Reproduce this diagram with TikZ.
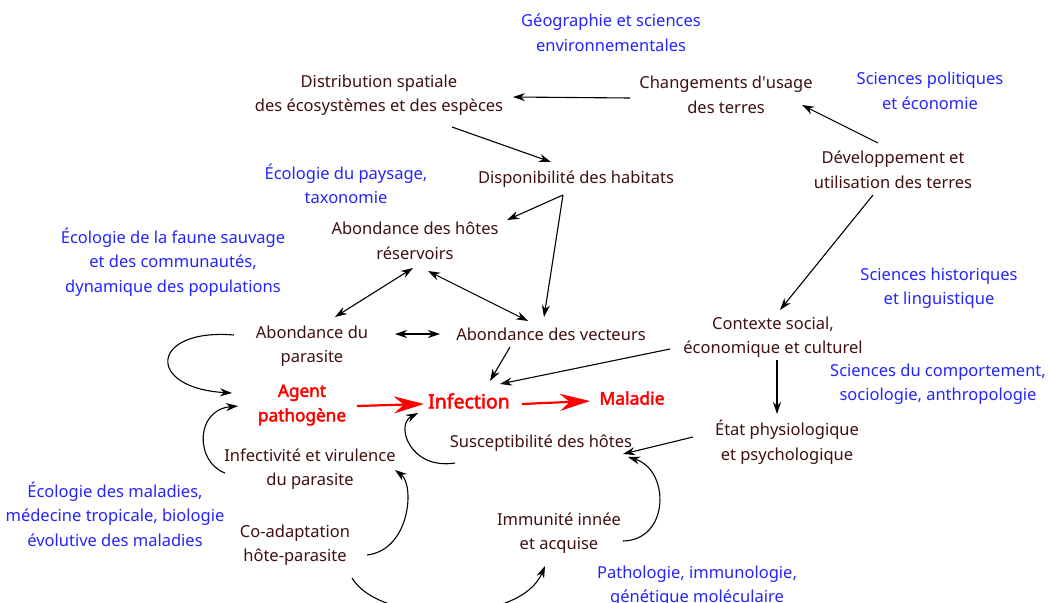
\documentclass[tikz,border=0pt]{standalone}
\usepackage{fontspec}
\setmainfont{Noto Sans}[AutoFakeBold=2.5]
\usetikzlibrary{arrows.meta}
\definecolor{brun}{RGB}{64,16,16}
\definecolor{bleu}{RGB}{36,36,255}
\definecolor{rouge}{RGB}{255,0,0}

\begin{document}
\begin{tikzpicture}[x=1pt, y=-1pt,
    txt/.style = {text=brun, align=center, inner sep=0pt, font=\fontsize{16.5}{24.5}\selectfont},
    field/.style = {txt, text=bleu},
    key/.style = {txt, text=rouge, font=\fontsize{17.2}{24.5}\selectfont\bfseries},
    link/.style = {-{Stealth[length=12pt, width=8pt]}, line width=1.1pt},
    twoway/.style = {{Stealth[length=12pt, width=8pt]}-{Stealth[length=12pt, width=8pt]}, line width=1.1pt},
    cause/.style = {-{Stealth[length=30pt, width=17pt]}, rouge, line width=2.2pt}]
    \useasboundingbox (0,0) rectangle (1048,602);
    \clip (0,0) rectangle (1048,602);
    % disciplines (blue)
    \node[field] (geo) at (611,33) {Géographie et sciences\\environnementales};
    \node[field] (pol) at (930,91) {Sciences politiques\\et économie};
    \node[field] (pay) at (346,184) {Écologie du paysage,\\taxonomie};
    \node[field] (faune) at (173,262) {Écologie de la faune sauvage\\et des communautés,\\dynamique des populations};
    \node[field] (hist) at (939,288) {Sciences historiques\\et linguistique};
    \node[field] (comp) at (938,384) {Sciences du comportement,\\sociologie, anthropologie};
    \node[field] (malad) at (115,514) {Écologie des maladies,\\médecine tropicale, biologie\\évolutive des maladies};
    \node[field] (patho) at (697,586) {Pathologie, immunologie,\\génétique moléculaire};
    % factors
    \node[txt] (dist) at (379,95) {Distribution spatiale\\des écosystèmes et des espèces};
    \node[txt] (chg) at (726,95) {Changements d\textquotesingle usage\\des terres};
    \node[txt] (dispo) at (576,179) {Disponibilité des habitats};
    \node[txt] (dev) at (893,170) {Développement et\\utilisation des terres};
    \node[txt] (hotes) at (415,241) {Abondance des hôtes\\réservoirs};
    \node[txt] (para) at (312,346) {Abondance du\\parasite};
    \node[txt] (vect) at (551,334) {Abondance des vecteurs};
    \node[txt] (ctx) at (773,337) {Contexte social,\\économique et culturel};
    \node[txt] (sus) at (541,443) {Susceptibilité des hôtes};
    \node[txt] (etat) at (787,442) {État physiologique\\et psychologique};
    \node[txt] (virul) at (310,469) {Infectivité et virulence\\du parasite};
    \node[txt] (coad) at (295,545) {Co-adaptation\\hôte-parasite};
    \node[txt] (immu) at (559,533) {Immunité innée\\et acquise};
    % the chain
    \node[key] (agent) at (302,405) {Agent\\pathogène};
    \node[key, font=\fontsize{19.5}{24}\selectfont\bfseries] (inf) at (469,401) {Infection};
    \node[key, font=\fontsize{17.5}{24}\selectfont\bfseries] (maladie) at (632,398) {Maladie};
    % straight links (offsets in px from the node centres)
    \draw[link] ([shift={(-96,3)}]chg.center) -- ([shift={(134,2)}]dist.center);
    \draw[link] ([shift={(73,32)}]dist.center) -- ([shift={(-25,-17)}]dispo.center);
    \draw[link] ([shift={(-15,-27)}]dev.center) -- ([shift={(76,10)}]chg.center);
    \draw[link] ([shift={(-13,16)}]dispo.center) -- ([shift={(92,-21)}]hotes.center);
    \draw[link] ([shift={(-13,16)}]dispo.center) -- ([shift={(-7,-17)}]vect.center);
    \draw[link] ([shift={(-20,25)}]dev.center) -- ([shift={(7,-27)}]ctx.center);
    \draw[twoway] ([shift={(-2,27)}]hotes.center) -- ([shift={(23,-29)}]para.center);
    \draw[twoway] ([shift={(13,30)}]hotes.center) -- ([shift={(-23,-13)}]vect.center);
    \draw[twoway] ([shift={(83,-12)}]para.center) -- ([shift={(-111,0)}]vect.center);
    \draw[link] ([shift={(-41,13)}]vect.center) -- ([shift={(21,-20)}]inf.center);
    \draw[link] ([shift={(-103,12)}]ctx.center) -- ([shift={(31,-17)}]inf.center);
    \draw[link] ([shift={(4,23)}]ctx.center) -- ([shift={(-10,-28)}]etat.center);
    \draw[link] ([shift={(-94,-5)}]etat.center) -- ([shift={(82,11)}]sus.center);
    \draw[cause] ([shift={(55,1)}]agent.center) -- ([shift={(-45,3)}]inf.center);
    \draw[cause] ([shift={(53,3)}]inf.center) -- ([shift={(-42,3)}]maladie.center);
    % curved links
    \draw[link] ([shift={(-78,-11)}]para.center) .. controls +(-84,-7) and +(-87,-5) .. ([shift={(-70,-12)}]agent.center);
    \draw[link] ([shift={(-85,4)}]virul.center) .. controls +(-30,-11) and +(-43,4) .. ([shift={(-64,1)}]agent.center);
    \draw[link] ([shift={(-86,20)}]sus.center) .. controls +(-45,7) and +(-23,12) .. ([shift={(-51,12)}]inf.center);
    \draw[link] ([shift={(72,10)}]coad.center) .. controls +(43,-5) and +(20,15) .. ([shift={(85,1)}]virul.center);
    \draw[link] ([shift={(57,33)}]coad.center) .. controls +(28,47) and +(-25,59) .. ([shift={(-14,33)}]immu.center);
    \draw[link] ([shift={(64,8)}]immu.center) .. controls +(47,-1) and +(42,13) .. ([shift={(87,14)}]sus.center);
\end{tikzpicture}
\end{document}
